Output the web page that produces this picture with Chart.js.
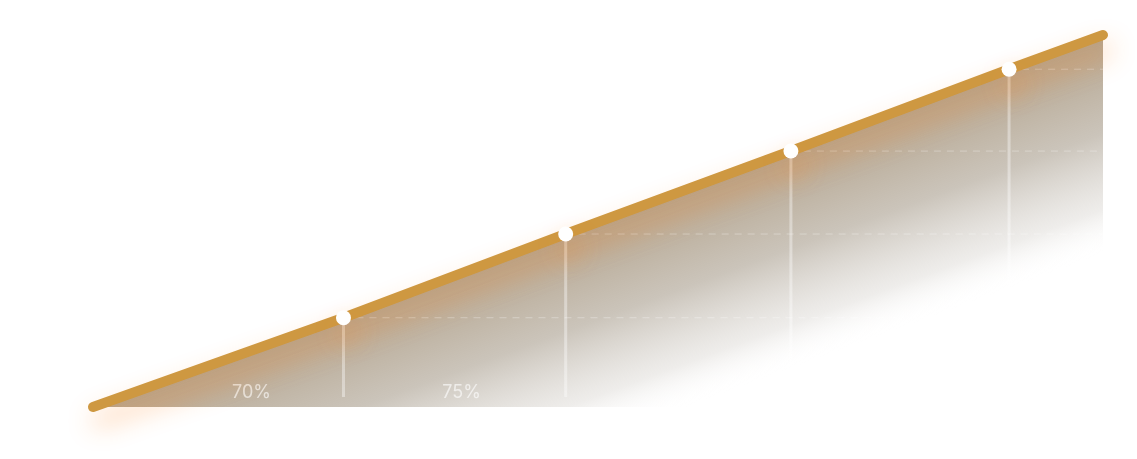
<!DOCTYPE html>
<html>
<head>
<meta charset="utf-8">
<script src="https://cdn.jsdelivr.net/npm/chart.js@4/dist/chart.umd.min.js"></script>
<style>
  html, body { margin: 0; padding: 0; background: #fff; }
  #wrap { width: 1137px; height: 459px; position: relative; }
</style>
</head>
<body>
<div id="wrap"><canvas id="chart"></canvas></div>
<script>
// progress along the track (x) and value reached (y)
const xs = [0, 24.8, 46.8, 69.1, 90.7, 100];
const ys = [0, 24, 46.5, 68.8, 90.8, 100];
const dotSizes = [0, 7.5, 7.5, 7.5, 7.5, 0];

// labels printed inside the filled area
const stepLabels = ['70%', '75%'];
const stepLabelX = [15.7, 36.5];

const points = xs.map((x, i) => ({ x: x, y: ys[i] }));

// fill: fades out perpendicular to the line
function fillGradient(context) {
  const chart = context.chart;
  const area = chart.chartArea;
  if (!area) return 'rgba(180,165,140,0.6)';
  const w = area.right - area.left;
  const h = area.bottom - area.top;
  const len = Math.sqrt(w * w + h * h);
  const dist = 205;
  const x0 = area.right, y0 = area.top;
  const g = chart.ctx.createLinearGradient(x0, y0, x0 + h / len * dist, y0 + w / len * dist);
  g.addColorStop(0, 'rgba(150,126,92,0.72)');
  g.addColorStop(0.45, 'rgba(160,148,130,0.55)');
  g.addColorStop(0.8, 'rgba(200,195,188,0.3)');
  g.addColorStop(1, 'rgba(255,255,255,0)');
  return g;
}

const extras = {
  id: 'extras',
  beforeDatasetDraw(chart) {
    const ctx = chart.ctx;
    const area = chart.chartArea;
    const meta = chart.getDatasetMeta(0);
    ctx.save();
    // vertical guides
    ctx.strokeStyle = 'rgba(255,255,255,0.38)';
    ctx.lineWidth = 3;
    meta.data.forEach((pt, i) => {
      if (!dotSizes[i]) return;
      ctx.beginPath();
      ctx.moveTo(pt.x, pt.y);
      ctx.lineTo(pt.x, area.bottom - 10);
      ctx.stroke();
    });
    // dashed levels to the right edge
    ctx.strokeStyle = 'rgba(255,255,255,0.3)';
    ctx.lineWidth = 1;
    ctx.setLineDash([7, 6]);
    meta.data.forEach((pt, i) => {
      if (!dotSizes[i]) return;
      ctx.beginPath();
      ctx.moveTo(pt.x, pt.y);
      ctx.lineTo(area.right, pt.y);
      ctx.stroke();
    });
    ctx.setLineDash([]);
    // step labels
    ctx.fillStyle = 'rgba(255,255,255,0.62)';
    ctx.font = '18px Inter, Roboto, sans-serif';
    ctx.textAlign = 'center';
    ctx.textBaseline = 'alphabetic';
    const xScale = chart.scales.x;
    stepLabels.forEach((t, i) => {
      ctx.fillText(t, xScale.getPixelForValue(stepLabelX[i]), area.bottom - 9);
    });
    ctx.restore();
    // glow under the line
    ctx.save();
    ctx.shadowColor = 'rgba(255,135,40,0.45)';
    ctx.shadowBlur = 26;
    ctx.shadowOffsetX = 4;
    ctx.shadowOffsetY = 14;
  },
  afterDatasetDraw(chart) {
    chart.ctx.restore();
  }
};

new Chart(document.getElementById('chart'), {
  type: 'line',
  data: {
    datasets: [{
      data: points,
      borderColor: '#CE9841',
      borderWidth: 10,
      borderCapStyle: 'round',
      tension: 0,
      fill: 'start',
      backgroundColor: fillGradient,
      pointRadius: dotSizes,
      pointHoverRadius: dotSizes,
      pointBackgroundColor: '#ffffff',
      pointBorderWidth: 0,
      clip: false
    }]
  },
  options: {
    responsive: true,
    maintainAspectRatio: false,
    animation: false,
    layout: { padding: { left: 93, right: 34, top: 35, bottom: 52 } },
    plugins: { legend: { display: false }, tooltip: { enabled: false } },
    scales: {
      x: { type: 'linear', min: 0, max: 100, display: false },
      y: { min: 0, max: 100, display: false }
    }
  },
  plugins: [extras]
});
</script>
</body>
</html>
